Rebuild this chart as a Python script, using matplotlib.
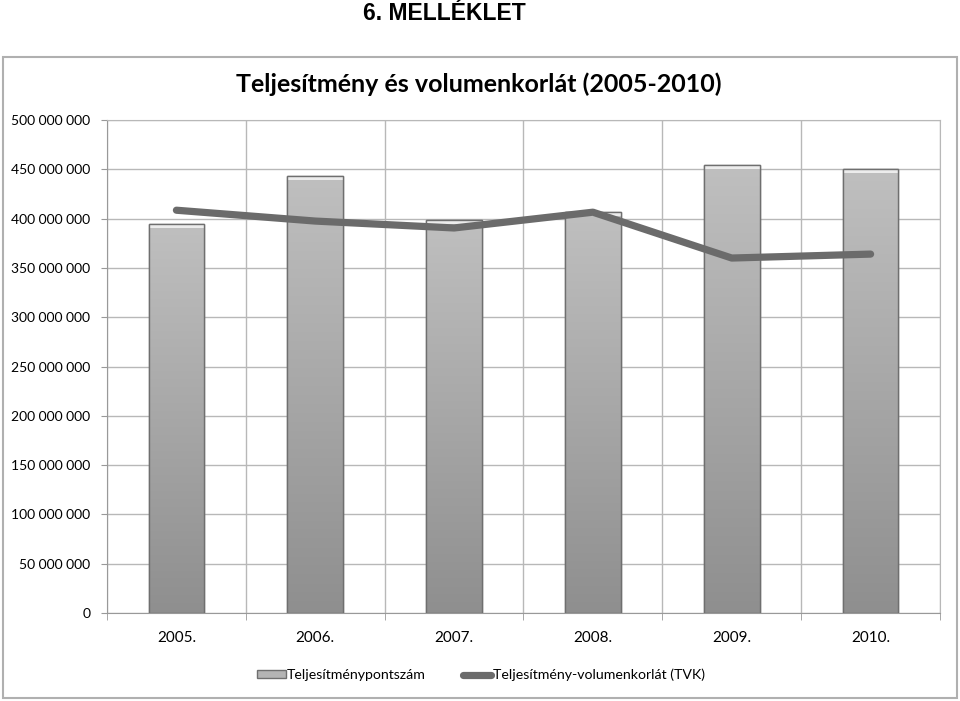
import matplotlib
matplotlib.use('Agg')
import matplotlib.pyplot as plt
import numpy as np
from matplotlib.patches import Rectangle
from matplotlib.lines import Line2D
from matplotlib.ticker import FuncFormatter, MultipleLocator

years = ['2005.', '2006.', '2007.', '2008.', '2009.', '2010.']
pontszam = [394500000, 443000000, 398500000, 406500000, 454000000, 450000000]
tvk = [408500000, 397500000, 390500000, 406500000, 360000000, 364000000]

plt.rcParams['font.family'] = ['Lato', 'DejaVu Sans']

fig = plt.figure(figsize=(9.6, 7.01), dpi=100, facecolor='white')

# outer chart frame
fig.patches.append(Rectangle((3/960, 3/701), 954/960, 641/701, transform=fig.transFigure,
                             fill=False, edgecolor='#b0b0b0', linewidth=1.5))
fig.text(444/960, 1 - 13/701, '6. MELLÉKLET', ha='center', va='center', fontsize=16.5,
         fontweight='bold', family=['Liberation Sans', 'DejaVu Sans'])
fig.text(479/960, 1 - 84/701, 'Teljesítmény és volumenkorlát (2005-2010)', ha='center',
         va='center', fontsize=18, fontweight='bold')

ax = fig.add_axes([107/960, 88/701, 833/960, 493/701])
x = np.arange(len(years))
w = 0.4

bars = ax.bar(x, pontszam, width=w, color='#b4b4b4', edgecolor='#7a7a7a', linewidth=1, zorder=2)

# vertical gradient on the bars
grad = np.linspace(0.75, 0.56, 256).reshape(-1, 1)
for b in bars:
    x0, y0 = b.get_x(), b.get_y()
    bw, bh = b.get_width(), b.get_height()
    im = ax.imshow(np.dstack([grad] * 3), extent=[x0, x0 + bw, y0, y0 + bh],
                   aspect='auto', origin='upper', zorder=2.5)
    im.set_clip_path(b)
    # bevel highlight at the top
    ax.add_patch(Rectangle((x0, y0 + bh - 4e6), bw, 4e6, facecolor='#ececec',
                           edgecolor='none', zorder=2.6))
    ax.add_patch(Rectangle((x0, y0), bw, bh, fill=False, edgecolor='#6f6f6f',
                           linewidth=1, zorder=2.7))

ax.plot(x, tvk, color='#6b6b6b', linewidth=5.2, solid_capstyle='round',
        solid_joinstyle='round', zorder=3)

ax.set_xlim(-0.5, len(years) - 0.5)
ax.set_ylim(0, 500000000)
ax.yaxis.set_major_locator(MultipleLocator(50000000))
ax.yaxis.set_major_formatter(FuncFormatter(lambda v, p: '{:,.0f}'.format(v).replace(',', ' ')))
ax.set_xticks(x)
ax.set_xticklabels(years)
ax.set_xticks(np.arange(-0.5, len(years)), minor=True)
ax.tick_params(axis='x', which='major', length=0, pad=13, labelsize=11)
ax.tick_params(axis='x', which='minor', length=5, color='#999999')
ax.tick_params(axis='y', length=4, color='#999999', labelsize=10, pad=8)

ax.grid(axis='y', color='#b8b8b8', linewidth=1, zorder=0)
ax.grid(axis='x', which='minor', color='#b8b8b8', linewidth=1, zorder=0)
ax.set_axisbelow(True)
for s in ax.spines.values():
    s.set_color('#b8b8b8')
ax.spines['left'].set_color('#999999')
ax.spines['bottom'].set_color('#999999')

handles = [Rectangle((0, 0), 1, 1, facecolor='#b4b4b4', edgecolor='#6f6f6f'),
           Line2D([0], [0], color='#6b6b6b', linewidth=5.2, solid_capstyle='round')]
fig.legend(handles, ['Teljesítménypontszám', 'Teljesítmény-volumenkorlát (TVK)'],
           loc='center', bbox_to_anchor=(481/960, 1 - 675/701), ncol=2, frameon=False,
           fontsize=10.2, handlelength=2.0, handletextpad=0.1, columnspacing=2.6,
           handleheight=0.45)

fig.savefig('out.png', dpi=100, facecolor='white')
